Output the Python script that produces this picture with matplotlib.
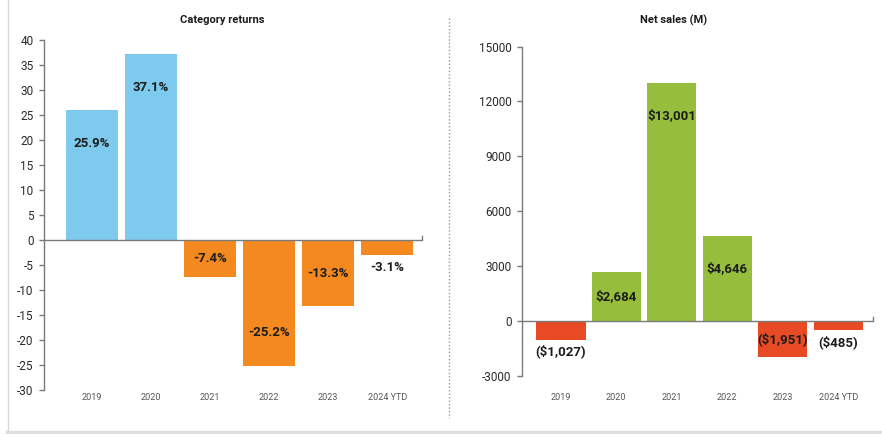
import matplotlib
matplotlib.use("Agg")
import matplotlib.pyplot as plt
import matplotlib.transforms as mtransforms
from matplotlib.lines import Line2D

# ---------------------------------------------------------
# data
# ---------------------------------------------------------
years = ["2019", "2020", "2021", "2022", "2023", "2024 YTD"]

returns = [25.9, 37.1, -7.4, -25.2, -13.3, -3.1]
return_labels = ["25.9%", "37.1%", "-7.4%", "-25.2%", "-13.3%", "-3.1%"]

net_sales = [-1027, 2684, 13001, 4646, -1951, -485]
sales_labels = ["($1,027)", "$2,684", "$13,001", "$4,646", "($1,951)", "($485)"]

returns_ticks = list(range(-30, 45, 5))
sales_ticks = [-3000, 0, 3000, 6000, 9000, 12000, 15000]

BLUE = "#7dcaee"
ORANGE = "#f3891f"
GREEN = "#96be3c"
RED = "#e84a26"
AXIS_GREY = "#7a7a7a"
TEXT_DARK = "#1c1c1c"

plt.rcParams["font.family"] = ["Roboto", "DejaVu Sans"]
plt.rcParams["axes.unicode_minus"] = False

DPI = 100
fig = plt.figure(figsize=(8.82, 4.34), dpi=DPI)


def style_axis(ax, ticks, ylim, xlim):
    ax.set_xlim(*xlim)
    ax.set_ylim(*ylim)
    ax.set_yticks(ticks)
    ax.set_xticks([])
    for side in ["top", "right", "bottom"]:
        ax.spines[side].set_visible(False)
    ax.spines["left"].set_color(AXIS_GREY)
    ax.spines["left"].set_linewidth(1)
    ax.tick_params(axis="y", direction="out", length=3.5, width=1,
                   color=AXIS_GREY, labelcolor="#2a2a2a", labelsize=8.5, pad=4)
    # zero line with small end tick
    ax.axhline(0, color=AXIS_GREY, lw=1, zorder=3)
    trans = mtransforms.blended_transform_factory(ax.transAxes, ax.transData)
    span = ylim[1] - ylim[0]
    ax.add_line(Line2D([1, 1], [0, span * 0.012], transform=trans,
                       color=AXIS_GREY, lw=1, clip_on=False))


def label_bars(ax, values, labels, min_inside_px=25, max_offset_px=33):
    # pixel length of each bar, to decide inside/outside labels
    fig.canvas.draw()
    for i, (v, txt) in enumerate(zip(values, labels)):
        y0 = ax.transData.transform((i, 0))[1]
        y1 = ax.transData.transform((i, v))[1]
        length = abs(y1 - y0)
        sign = 1 if v >= 0 else -1
        if length >= min_inside_px:
            off = min(0.5 * length, max_offset_px)
            dy = -sign * off
        else:
            dy = -12
        ax.annotate(txt, xy=(i, v), xytext=(0, dy * 72 / DPI),
                    textcoords="offset points", ha="center", va="center",
                    fontsize=9.5, fontweight="bold", color=TEXT_DARK,
                    zorder=5)


def category_labels(ax, y_fig):
    trans = mtransforms.blended_transform_factory(ax.transData, fig.transFigure)
    for i, name in enumerate(years):
        ax.text(i, y_fig, name, transform=trans, ha="center", va="center",
                fontsize=6.5, color="#555555", clip_on=False)


# ---------------------------------------------------------
# left: category returns
# ---------------------------------------------------------
ax1 = fig.add_axes([0.0499, 0.1014, 0.4286, 0.8065])
colors1 = [BLUE if v >= 0 else ORANGE for v in returns]
ax1.bar(range(len(years)), returns, width=0.88, color=colors1, zorder=2)
style_axis(ax1, returns_ticks, (-30, 40), (-0.81, 5.59))
category_labels(ax1, 0.083)

# ---------------------------------------------------------
# right: net sales
# ---------------------------------------------------------
ax2 = fig.add_axes([0.5918, 0.1343, 0.3976, 0.7585])
colors2 = [GREEN if v >= 0 else RED for v in net_sales]
ax2.bar(range(len(years)), net_sales, width=0.89, color=colors2, zorder=2)
style_axis(ax2, sales_ticks, (-3000, 15000), (-0.70, 5.62))
category_labels(ax2, 0.083)

label_bars(ax1, returns, return_labels)
label_bars(ax2, net_sales, sales_labels)

# titles
fig.text(222 / 882, 1 - 20 / 434, "Category returns", ha="center", va="center",
         fontsize=8, fontweight="bold", color=TEXT_DARK)
fig.text(674 / 882, 1 - 20 / 434, "Net sales (M)", ha="center", va="center",
         fontsize=8, fontweight="bold", color=TEXT_DARK)

# dotted separator
fig.add_artist(Line2D([449 / 882, 449 / 882], [1 - 18 / 434, 1 - 418 / 434],
                      transform=fig.transFigure, color="#9a9a9a", lw=1,
                      linestyle=(0, (1, 1.5))))

# light frame: left edge and bottom band
fig.add_artist(Line2D([7.5 / 882, 7.5 / 882], [2.5 / 434, 1],
                      transform=fig.transFigure, color="#d8d8d8", lw=1))
fig.add_artist(Line2D([7 / 882, 1], [2 / 434, 2 / 434],
                      transform=fig.transFigure, color="#dedede", lw=2.5))

fig.savefig("out.png", dpi=DPI)
